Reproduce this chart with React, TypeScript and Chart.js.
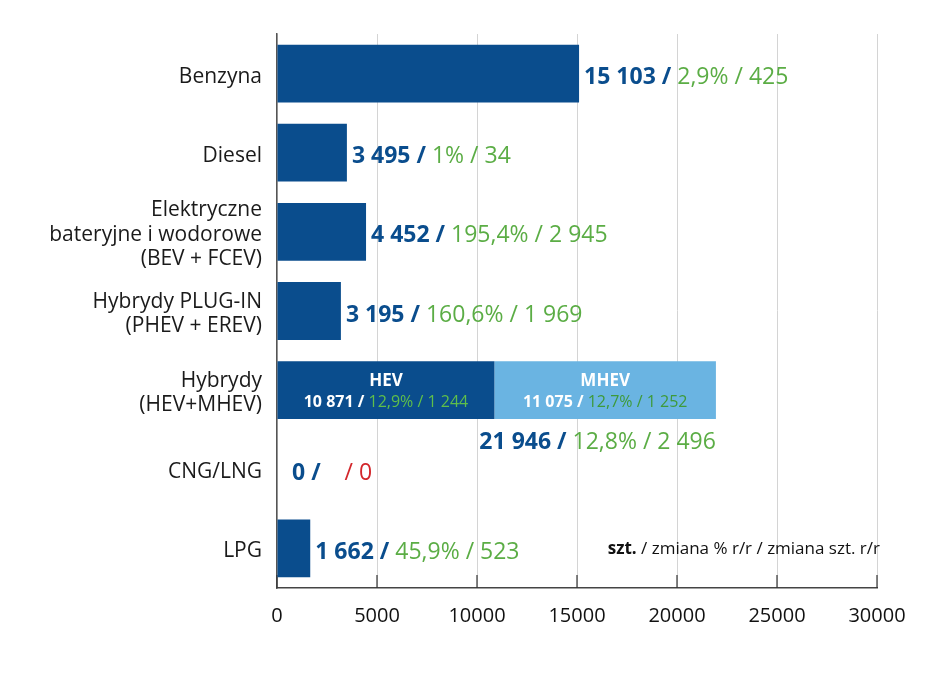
import React, { useEffect, useRef } from 'react';
import { Chart, registerables } from 'chart.js';

Chart.register(...registerables);

const categories: string[][] = [
  ['Benzyna'],
  ['Diesel'],
  ['Elektryczne', 'bateryjne i wodorowe', '(BEV + FCEV)'],
  ['Hybrydy PLUG-IN', '(PHEV + EREV)'],
  ['Hybrydy', '(HEV+MHEV)'],
  ['CNG/LNG'],
  ['LPG'],
];
const primaryValues = [15103, 3495, 4452, 3195, 10871, 0, 1662];
const mhevValues = [0, 0, 0, 0, 11075, 0, 0];
const totalUnits = ['15 103', '3 495', '4 452', '3 195', '21 946', '0', '1 662'];
const changePct = ['2,9%', '1%', '195,4%', '160,6%', '12,8%', '', '45,9%'];
const changeUnits = ['425', '34', '2 945', '1 969', '2 496', '0', '523'];
const changeNegative = [false, false, false, false, false, true, false];
const segmentNames = ['HEV', 'MHEV'];
const segmentUnits = ['10 871', '11 075'];
const segmentPct = ['12,9%', '12,7%'];
const segmentChange = ['1 244', '1 252'];
const xTickValues = [0, 5000, 10000, 15000, 20000, 25000, 30000];
const noteBold = 'szt.';
const noteRest = ' / zmiana % r/r / zmiana szt. r/r';

const DARK = '#0A4D8D';
const LIGHT = '#6AB4E2';
const GREEN = '#5BAD45';
const RED = '#D3262B';
const FONT = '"Open Sans", sans-serif';

const labelPlugin = {
  id: 'valueLabels',
  beforeDatasetsDraw(chart: any) {
    const ctx = chart.ctx;
    const xs = chart.scales.x;
    const bottom = chart.chartArea.bottom;
    ctx.save();
    ctx.strokeStyle = '#333';
    ctx.lineWidth = 1.2;
    xTickValues.forEach((v) => {
      const px = xs.getPixelForValue(v);
      ctx.beginPath();
      ctx.moveTo(px, bottom - 13);
      ctx.lineTo(px, bottom);
      ctx.stroke();
    });
    ctx.restore();
  },
  afterDatasetsDraw(chart: any) {
    const ctx = chart.ctx;
    const m0 = chart.getDatasetMeta(0);
    const m1 = chart.getDatasetMeta(1);
    ctx.save();
    ctx.textBaseline = 'middle';
    for (let i = 0; i < categories.length; i++) {
      const b0 = m0.data[i];
      const b1 = m1.data[i];
      const hasSeg = mhevValues[i] > 0;
      const endX = hasSeg ? b1.x : b0.x;
      const y = b0.y;
      const blue = `${totalUnits[i]} / `;
      const green = changePct[i] ? `${changePct[i]} / ${changeUnits[i]}` : `   / ${changeUnits[i]}`;
      ctx.font = `bold 23px ${FONT}`;
      const wb = ctx.measureText(blue).width;
      ctx.font = `23px ${FONT}`;
      const wg = ctx.measureText(green).width;
      let x0: number;
      let ty: number;
      if (hasSeg) {
        x0 = endX - wb - wg;
        ty = y + b0.height / 2 + 23;
      } else {
        x0 = endX + (primaryValues[i] === 0 ? 15 : 5);
        ty = y + 4;
      }
      ctx.textAlign = 'left';
      ctx.font = `bold 23px ${FONT}`;
      ctx.fillStyle = DARK;
      ctx.fillText(blue, x0, ty);
      ctx.font = `23px ${FONT}`;
      ctx.fillStyle = changeNegative[i] ? RED : GREEN;
      ctx.fillText(green, x0 + wb, ty);

      if (hasSeg) {
        const segs = [
          { start: b0.base, end: b0.x },
          { start: b1.base, end: b1.x },
        ];
        segs.forEach((s, k) => {
          const cx = (s.start + s.end) / 2;
          ctx.textAlign = 'center';
          ctx.fillStyle = '#fff';
          ctx.font = `bold 17px ${FONT}`;
          ctx.fillText(segmentNames[k], cx, y - 9);
          const t1 = `${segmentUnits[k]} / `;
          const t2 = `${segmentPct[k]} / ${segmentChange[k]}`;
          ctx.font = `bold 16px ${FONT}`;
          const w1 = ctx.measureText(t1).width;
          ctx.font = `16px ${FONT}`;
          const w2 = ctx.measureText(t2).width;
          const sx = cx - (w1 + w2) / 2;
          ctx.textAlign = 'left';
          ctx.font = `bold 16px ${FONT}`;
          ctx.fillStyle = '#fff';
          ctx.fillText(t1, sx, y + 12);
          ctx.font = `16px ${FONT}`;
          ctx.fillStyle = k === 0 ? '#5FBF4A' : '#3E9A3A';
          ctx.fillText(t2, sx + w1, y + 12);
        });
      }
    }
    // note
    const last = m0.data[categories.length - 1];
    const right = chart.chartArea.right + 3;
    ctx.font = `17px ${FONT}`;
    const wr = ctx.measureText(noteRest).width;
    ctx.font = `bold 17px ${FONT}`;
    const wbn = ctx.measureText(noteBold).width;
    ctx.textAlign = 'left';
    ctx.fillStyle = '#111';
    ctx.fillText(noteBold, right - wr - wbn, last.y + 1);
    ctx.font = `17px ${FONT}`;
    ctx.fillText(noteRest, right - wr, last.y + 1);
    ctx.restore();
  },
};

export default function App() {
  const ref = useRef<HTMLCanvasElement>(null);
  useEffect(() => {
    document.body.style.margin = '0';
    const chart = new Chart(ref.current as HTMLCanvasElement, {
      type: 'bar',
      data: {
        labels: categories as any,
        datasets: [
          {
            label: 'HEV / total',
            data: primaryValues,
            backgroundColor: DARK,
            categoryPercentage: 0.73,
            barPercentage: 1,
            borderWidth: 0,
          },
          {
            label: 'MHEV',
            data: mhevValues,
            backgroundColor: LIGHT,
            categoryPercentage: 0.73,
            barPercentage: 1,
            borderWidth: 0,
          },
        ],
      },
      options: {
        indexAxis: 'y',
        responsive: false,
        animation: false,
        layout: { padding: { top: 34, right: 49, left: 0, bottom: 0 } },
        plugins: { legend: { display: false }, tooltip: { enabled: false } },
        scales: {
          x: {
            stacked: true,
            min: 0,
            max: 30000,
            afterBuildTicks: (s: any) => {
              s.ticks = xTickValues.map((v) => ({ value: v }));
            },
            afterFit: (s: any) => {
              s.height = 88;
            },
            ticks: {
              padding: 16,
              color: '#111',
              font: { family: FONT, size: 20 },
              callback: (v: any) => String(v),
            },
            grid: { color: '#d4d4d4', lineWidth: 1, drawTicks: false },
            border: { display: true, color: '#444', width: 1.5 },
          },
          y: {
            stacked: true,
            afterFit: (s: any) => {
              s.width = 277;
            },
            ticks: {
              padding: 15,
              labelOffset: 3,
              color: '#1a1a1a',
              font: { family: FONT, size: 21, lineHeight: 1.17 },
            },
            grid: { display: false, drawTicks: false },
            border: { display: true, color: '#555', width: 1.5 },
          },
        },
      },
      plugins: [labelPlugin],
    } as any);
    return () => chart.destroy();
  }, []);
  return (
    <div style={{ position: 'absolute', left: 0, top: 0, width: 926, height: 676, background: '#fff' }}>
      <canvas ref={ref} width={926} height={676} />
    </div>
  );
}
